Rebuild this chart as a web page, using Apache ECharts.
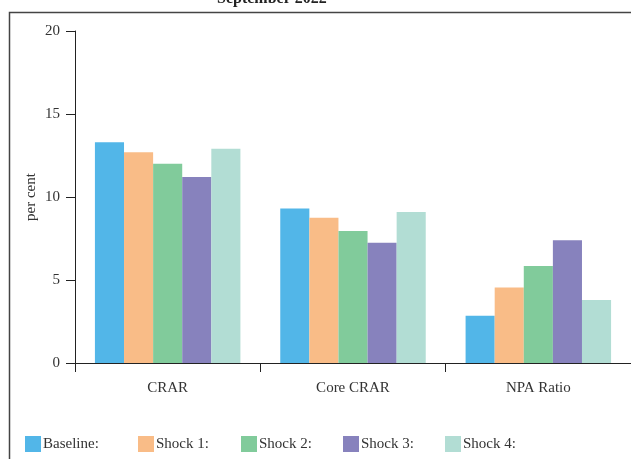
<!DOCTYPE html>
<html><head><meta charset="utf-8">
<script src="https://cdn.jsdelivr.net/npm/echarts@6/dist/echarts.min.js"></script>
<style>html,body{margin:0;padding:0;background:#fff}#c{width:631px;height:459px}</style>
</head><body><div id="c"></div>
<script>
const categories = ['CRAR', 'Core CRAR', 'NPA Ratio'];
const seriesNames = ['Baseline:', 'Shock 1:', 'Shock 2:', 'Shock 3:', 'Shock 4:'];
const baseline = [13.3, 9.3, 2.85];
const shock1 = [12.7, 8.75, 4.55];
const shock2 = [12.0, 7.95, 5.85];
const shock3 = [11.2, 7.25, 7.4];
const shock4 = [12.9, 9.1, 3.8];
const yTicks = [0, 5, 10, 15, 20];
const colors = ['#52b6e8', '#f9bc87', '#81cb9b', '#8782bd', '#b2ddd4'];
const allValues = [baseline, shock1, shock2, shock3, shock4];
const FONT = 'Liberation Serif';
const legendLefts = [25, 138, 241, 343, 445];

const chart = echarts.init(document.getElementById('c'), null, {renderer: 'canvas'});
const option = {
  animation: false,
  backgroundColor: '#fff',
  textStyle: {fontFamily: FONT},
  title: {
    text: 'September 2022', left: 212, top: -14,
    textStyle: {fontFamily: FONT, fontSize: 16, fontWeight: 'bold', color: '#222'}
  },
  graphic: [{
    type: 'rect', silent: true,
    shape: {x: 9.5, y: 12.5, width: 700, height: 500},
    style: {fill: 'none', stroke: '#444', lineWidth: 1.5}
  }],
  legend: seriesNames.map((n, i) => ({
    data: [n], left: legendLefts[i], top: 436,
    itemWidth: 16, itemHeight: 16, itemGap: 2, icon: 'rect',
    textStyle: {fontFamily: FONT, fontSize: 15, color: '#333', padding: [0, 0, 0, -3]},
    padding: 0
  })),
  grid: {left: 75, right: -1, top: 31, bottom: 96, containLabel: false},
  xAxis: {
    type: 'category', data: categories,
    axisLine: {lineStyle: {color: '#222', width: 1}},
    axisTick: {show: true, length: 9, alignWithLabel: false, lineStyle: {color: '#222'}},
    axisLabel: {fontFamily: FONT, fontSize: 15, color: '#333', margin: 18}
  },
  yAxis: {
    type: 'value', min: yTicks[0], max: yTicks[yTicks.length - 1], interval: 5,
    name: 'per cent', nameLocation: 'middle', nameGap: 36, nameRotate: 90,
    nameMoveOverlap: false,
    nameTextStyle: {fontFamily: FONT, fontSize: 15, color: '#333'},
    axisLine: {show: true, lineStyle: {color: '#222', width: 1}},
    axisTick: {show: true, length: 9, lineStyle: {color: '#222'}},
    splitLine: {show: false},
    axisLabel: {fontFamily: FONT, fontSize: 15, color: '#333', margin: 15}
  },
  series: seriesNames.map((n, i) => ({
    name: n, type: 'bar', data: allValues[i],
    barGap: '0%', barCategoryGap: '21.5%',
    itemStyle: {color: colors[i]}
  }))
};
chart.setOption(option);
</script></body></html>
